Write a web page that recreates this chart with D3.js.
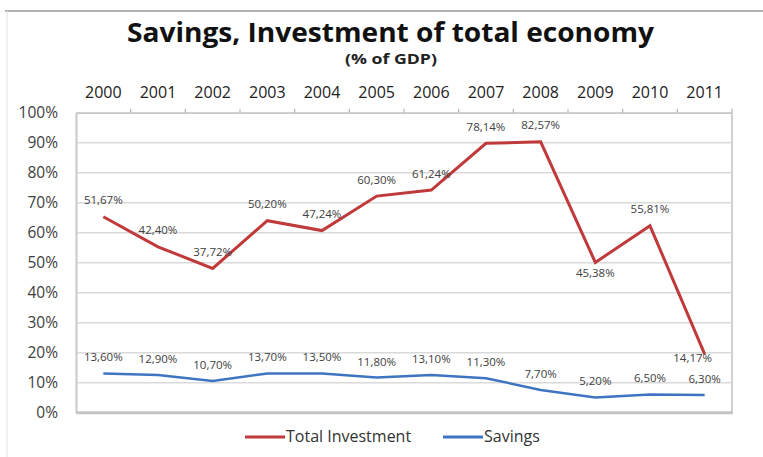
<!DOCTYPE html>
<html lang="en">
<head>
<meta charset="UTF-8">
<title>Savings, Investment of total economy</title>
<style>
  body { margin: 0; background: #fff; }
  text { font-family: "Open Sans", Lato, sans-serif; }
</style>
</head>
<body>
<div class="canvas"></div>
<script src="https://cdnjs.cloudflare.com/ajax/libs/d3/7.8.5/d3.min.js"></script>
<script>
const years = ["2000","2001","2002","2003","2004","2005","2006","2007","2008","2009","2010","2011"];
const investment = [65.3, 55.3, 48.1, 64.0, 60.7, 72.2, 74.2, 89.8, 90.3, 50.1, 62.3, 19.5];
const savings = [13.1, 12.6, 10.6, 13.1, 13.1, 11.7, 12.6, 11.5, 7.6, 5.1, 6.1, 5.9];
const investmentLabels = ["51,67%","42,40%","37,72%","50,20%","47,24%","60,30%","61,24%","78,14%","82,57%","45,38%","55,81%","14,17%"];
const savingsLabels = ["13,60%","12,90%","10,70%","13,70%","13,50%","11,80%","13,10%","11,30%","7,70%","5,20%","6,50%","6,30%"];
const investmentLabelPos = ["above","above","above","above","above","above","above","above","above","below","above","left"];
const yTicks = [0,10,20,30,40,50,60,70,80,90,100];

const W = 763, H = 457;
const plotLeft = 76, plotRight = 732, plotTop = 112.7, plotBottom = 412.7;

const svg = d3.select(".canvas").append("svg")
    .attr("width", W)
    .attr("height", H);

// frame lines
svg.append("line").attr("x1", 5).attr("x2", W).attr("y1", 11).attr("y2", 11)
    .attr("stroke", "#9a9a9a").attr("stroke-width", 1.5);
svg.append("line").attr("x1", 7).attr("x2", 7).attr("y1", 11).attr("y2", H)
    .attr("stroke", "#e2e2e2").attr("stroke-width", 1);

// titles
svg.append("text").attr("x", 390.5).attr("y", 42)
    .attr("text-anchor", "middle").attr("font-size", 26).attr("font-weight", "bold")
    .attr("textLength", 527).attr("lengthAdjust", "spacingAndGlyphs")
    .attr("fill", "#111").text("Savings, Investment of total economy");
svg.append("text").attr("x", 391).attr("y", 64)
    .attr("text-anchor", "middle").attr("font-size", 14).attr("font-weight", "bold")
    .attr("textLength", 92).attr("lengthAdjust", "spacingAndGlyphs")
    .attr("fill", "#222").text("(% of GDP)");

const x = d3.scaleBand().domain(years).range([plotLeft, plotRight]);
const y = d3.scaleLinear().domain([0, 100]).range([plotBottom, plotTop]);
const cx = d => x(d) + x.bandwidth() / 2;

// gridlines
svg.append("g").selectAll("line")
    .data(yTicks.filter(t => t > 0))
    .join("line")
        .attr("x1", plotLeft).attr("x2", plotRight)
        .attr("y1", d => y(d)).attr("y2", d => y(d))
        .attr("stroke", "#dadada").attr("stroke-width", 1.5);

// y axis
const yAxis = svg.append("g")
    .attr("transform", `translate(${plotLeft},0)`)
    .call(d3.axisLeft(y).tickValues(yTicks).tickFormat(d => d + "%").tickSize(0).tickPadding(18));
yAxis.select(".domain").attr("stroke", "#c8c8c8").attr("stroke-width", 2);
yAxis.selectAll("text").attr("font-size", 15.5).attr("fill", "#404040")
    .style("font-family", "'Open Sans', sans-serif");

// right border of the plot
svg.append("line").attr("x1", plotRight).attr("x2", plotRight).attr("y1", plotTop - 4).attr("y2", plotBottom)
    .attr("stroke", "#d0d0d0").attr("stroke-width", 2);

// bottom line
svg.append("line").attr("x1", plotLeft).attr("x2", plotRight + 1).attr("y1", plotBottom).attr("y2", plotBottom)
    .attr("stroke", "#c4c4c4").attr("stroke-width", 3);

// top category axis
const xAxis = svg.append("g")
    .attr("transform", `translate(0,${plotTop})`)
    .call(d3.axisTop(x).tickSize(0).tickPadding(15));
xAxis.select(".domain").attr("stroke", "#c8c8c8").attr("stroke-width", 1.5);
xAxis.selectAll("text").attr("font-size", 16).attr("fill", "#222")
    .style("font-family", "'Open Sans', sans-serif");
svg.append("g").selectAll("line")
    .data(years.slice(1))
    .join("line")
        .attr("x1", d => x(d)).attr("x2", d => x(d))
        .attr("y1", plotTop - 4).attr("y2", plotTop)
        .attr("stroke", "#b8b8b8").attr("stroke-width", 1.2);

const line = d3.line().x((d, i) => cx(years[i])).y(d => y(d));

svg.append("path").datum(savings)
    .attr("d", line).attr("fill", "none")
    .attr("stroke", "#3f74c2").attr("stroke-width", 2.5);
svg.append("path").datum(investment)
    .attr("d", line).attr("fill", "none")
    .attr("stroke", "#c0393b").attr("stroke-width", 3)
    .attr("stroke-linejoin", "miter");

// data labels
svg.append("g").selectAll("text")
    .data(investment)
    .join("text")
        .attr("x", (d, i) => cx(years[i]) + (investmentLabelPos[i] === "left" ? -12 : 0))
        .attr("y", (d, i) => y(d) + (investmentLabelPos[i] === "below" ? 15 : investmentLabelPos[i] === "left" ? 8 : -12.5))
        .attr("text-anchor", "middle")
        .attr("font-size", 11.5).attr("fill", "#404040")
        .text((d, i) => investmentLabels[i]);

svg.append("g").selectAll("text")
    .data(savings)
    .join("text")
        .attr("x", (d, i) => cx(years[i]))
        .attr("y", d => y(d) - 12)
        .attr("text-anchor", "middle")
        .attr("font-size", 11.5).attr("fill", "#404040")
        .text((d, i) => savingsLabels[i]);

// legend
const legend = [
    { name: "Total Investment", color: "#c0393b", x: 245 },
    { name: "Savings", color: "#3f74c2", x: 443 }
];
const lg = svg.append("g").selectAll("g").data(legend).join("g");
lg.append("line")
    .attr("x1", d => d.x).attr("x2", d => d.x + 40)
    .attr("y1", 437).attr("y2", 437)
    .attr("stroke", d => d.color).attr("stroke-width", 3);
lg.append("text")
    .attr("x", d => d.x + 41).attr("y", 442)
    .attr("font-size", 16).attr("fill", "#333")
    .text(d => d.name);
</script>
</body>
</html>
